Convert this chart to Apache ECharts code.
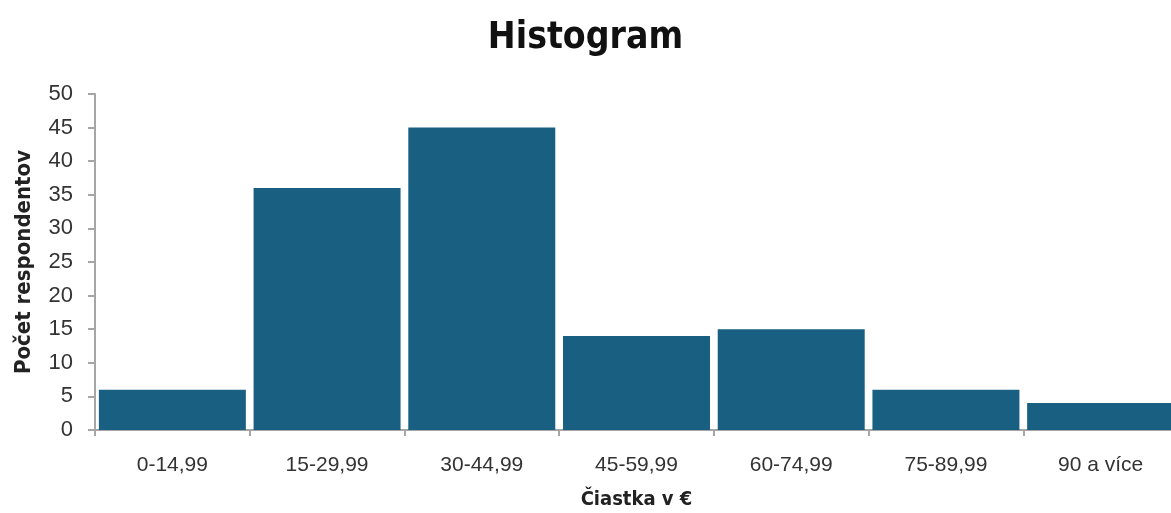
<!DOCTYPE html>
<html>
<head>
<meta charset="utf-8">
<script src="https://cdn.jsdelivr.net/npm/echarts@6/dist/echarts.min.js"></script>
<style>
  html, body { margin: 0; padding: 0; background: #fff; }
  #chart { width: 1171px; height: 513px; }
</style>
</head>
<body>
<div id="chart"></div>
<script>
// Amount bands (€) and number of respondents in each band
const categories = ['0-14,99', '15-29,99', '30-44,99', '45-59,99', '60-74,99', '75-89,99', '90 a více'];
const counts = [6, 36, 45, 14, 15, 6, 4];
const yTicks = { min: 0, max: 50, interval: 5 };

const titleFont = '"Liberation Sans Narrow", "DejaVu Sans Condensed", "Roboto", sans-serif';
const labelFont = '"Liberation Sans", "Roboto", sans-serif';
const axisGrey = '#a6a6a6';

const chart = echarts.init(document.getElementById('chart'), null, { renderer: 'canvas' });
chart.setOption({
  animation: false,
  title: {
    text: 'Histogram',
    left: 'center',
    top: 15,
    textStyle: { fontFamily: titleFont, fontWeight: 'bold', fontSize: 37, color: '#111' }
  },
  grid: { left: 95, right: -7, top: 94, bottom: 83, containLabel: false, outerBoundsMode: 'none' },
  xAxis: {
    type: 'category',
    data: categories,
    name: 'Čiastka v €',
    nameLocation: 'middle',
    nameGap: 60,
    nameTextStyle: { fontFamily: titleFont, fontWeight: 'bold', fontSize: 20, color: '#222' },
    axisLine: { lineStyle: { color: axisGrey, width: 2 } },
    axisTick: { show: true, length: 6, alignWithLabel: false, lineStyle: { color: axisGrey, width: 2 } },
    axisLabel: { fontFamily: labelFont, fontSize: 21, color: '#333', margin: 25 }
  },
  yAxis: {
    type: 'value',
    min: yTicks.min,
    max: yTicks.max,
    interval: yTicks.interval,
    name: 'Počet respondentov',
    nameLocation: 'middle',
    nameGap: 60,
    nameTextStyle: { fontFamily: titleFont, fontWeight: 'bold', fontSize: 22, color: '#222' },
    axisLine: { show: true, lineStyle: { color: axisGrey, width: 2 } },
    axisTick: { show: true, length: 7, lineStyle: { color: axisGrey, width: 2 } },
    axisLabel: { fontFamily: labelFont, fontSize: 22, color: '#333', margin: 22 },
    splitLine: { show: false }
  },
  series: [{
    type: 'bar',
    data: counts,
    barCategoryGap: '5%',
    itemStyle: { color: '#185f81' }
  }]
});
</script>
</body>
</html>
